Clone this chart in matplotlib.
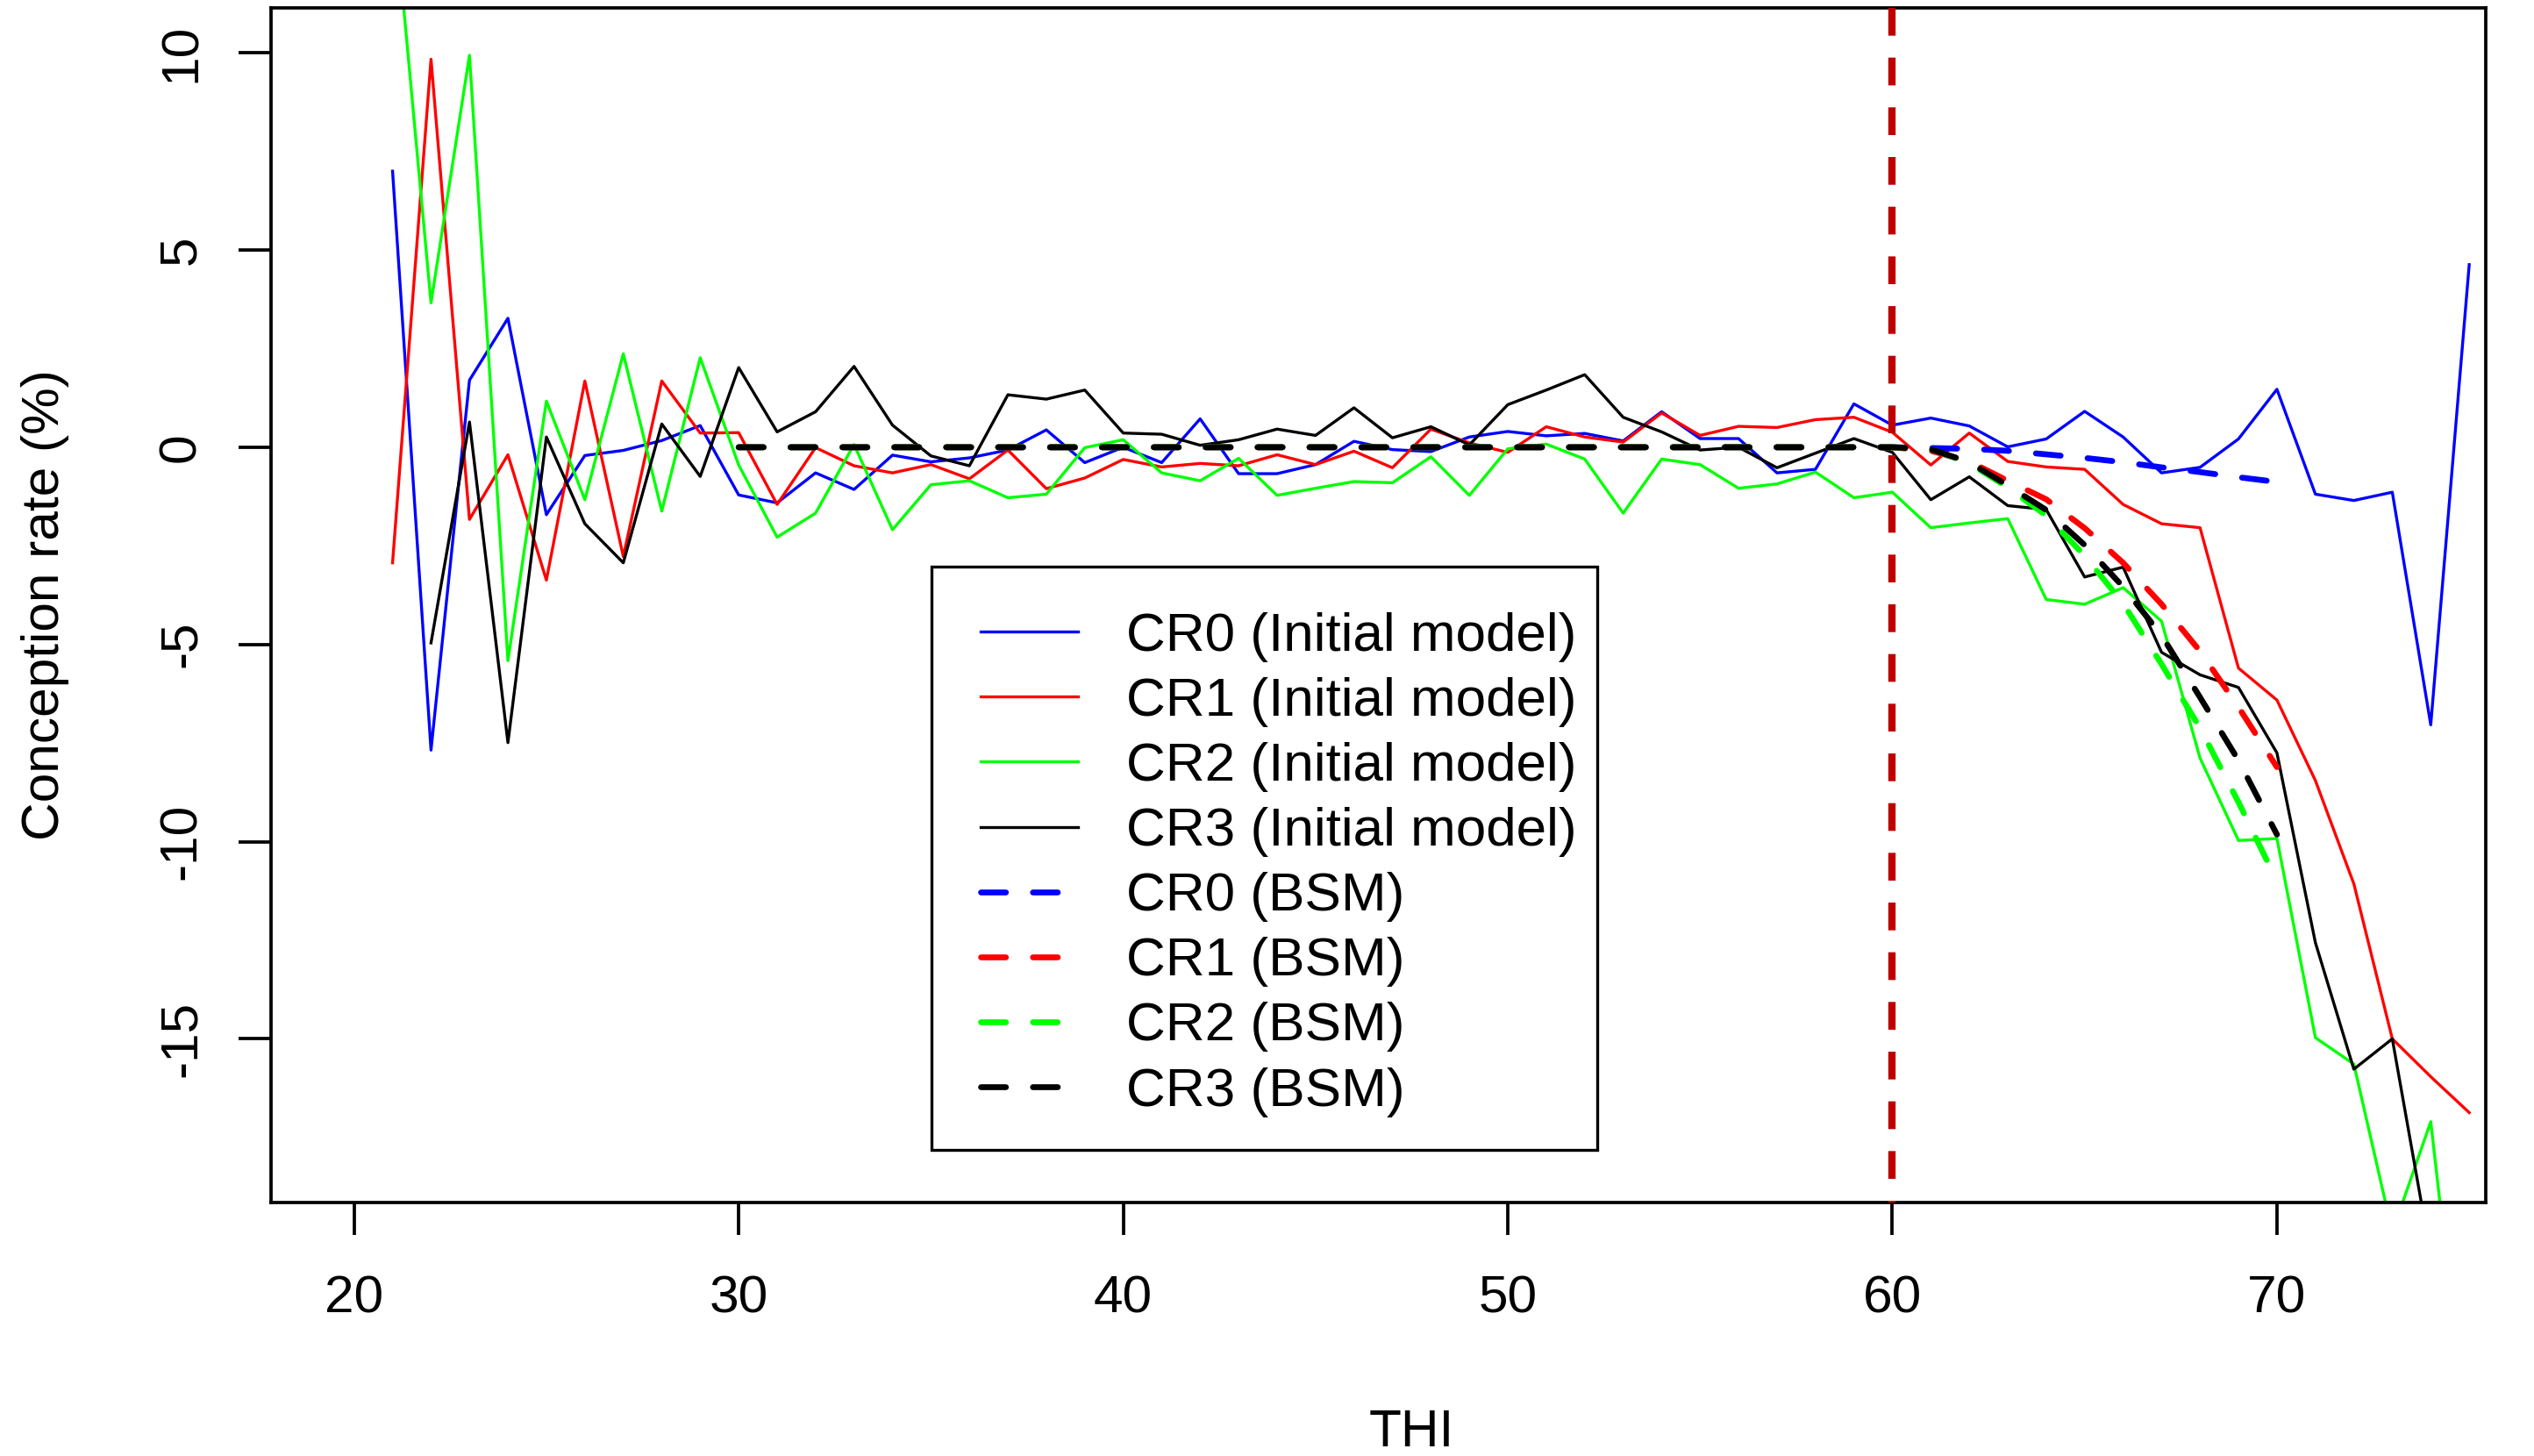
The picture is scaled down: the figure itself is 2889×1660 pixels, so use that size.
import matplotlib

matplotlib.use("Agg")
import matplotlib.pyplot as plt
from matplotlib.patches import Rectangle
import numpy as np


OUTPUT_PATH = "out.png"

# THI values of the initial model curves
THI = list(range(21, 76))

CR0_INITIAL = [
    7.0, -7.68, 1.70, 3.27, -1.71, -0.21, -0.08, 0.17, 0.55, -1.21,
    -1.41, -0.65, -1.07, -0.20, -0.37, -0.27, -0.07, 0.44, -0.39, 0.0,
    -0.39, 0.72, -0.67, -0.67, -0.44, 0.15, -0.06, -0.11, 0.26, 0.40,
    0.29, 0.35, 0.16, 0.90, 0.22, 0.22, -0.65, -0.56, 1.10, 0.56,
    0.74, 0.54, 0.01, 0.21, 0.91, 0.26, -0.65, -0.51, 0.21, 1.47,
    -1.19, -1.35, -1.14, -7.04, 4.63,
]
CR1_INITIAL = [
    -2.93, 9.84, -1.83, -0.19, -3.37, 1.68, -2.77, 1.68, 0.36, 0.37,
    -1.45, -0.01, -0.47, -0.65, -0.44, -0.80, -0.07, -1.05, -0.78, -0.31,
    -0.50, -0.41, -0.47, -0.19, -0.44, -0.10, -0.52, 0.46, 0.11, -0.13,
    0.52, 0.26, 0.13, 0.87, 0.30, 0.53, 0.50, 0.70, 0.76, 0.38,
    -0.45, 0.36, -0.36, -0.50, -0.56, -1.45, -1.94, -2.04, -5.60, -6.41,
    -8.45, -11.07, -15.0, -15.96, -16.87,
]
CR2_INITIAL = [
    14.2, 3.66, 9.94, -5.41, 1.17, -1.33, 2.37, -1.62, 2.27, -0.45,
    -2.28, -1.67, 0.07, -2.09, -0.95, -0.85, -1.28, -1.19, -0.01, 0.19,
    -0.65, -0.85, -0.28, -1.22, -1.04, -0.87, -0.90, -0.24, -1.22, -0.04,
    0.08, -0.30, -1.67, -0.30, -0.44, -1.04, -0.93, -0.63, -1.28, -1.14,
    -2.04, -1.92, -1.81, -3.86, -3.98, -3.56, -4.41, -7.88, -9.97, -9.92,
    -14.97, -15.64, -19.9, -17.1, -25.7,
]
CR3_INITIAL = [
    np.nan, -4.96, 0.64, -7.49, 0.26, -1.94, -2.93, 0.59, -0.74, 2.02,
    0.39, 0.90, 2.05, 0.56, -0.22, -0.47, 1.33, 1.22, 1.45, 0.36,
    0.33, 0.05, 0.19, 0.46, 0.30, 1.00, 0.24, 0.52, 0.06, 1.08,
    1.45, 1.84, 0.76, 0.39, -0.07, 0.00, -0.52, -0.15, 0.22, -0.13,
    -1.33, -0.75, -1.48, -1.58, -3.29, -3.04, -5.20, -5.77, -6.09, -7.75,
    -12.56, -15.77, -15.0, -20.5, np.nan,
]

# THI values of the BSM curves (flat at zero up to the breakpoint)
THI_BSM = list(range(30, 71))
ZEROS_TO_60 = [0.0] * 31

CR0_BSM = ZEROS_TO_60 + [-0.02, -0.04, -0.09, -0.18, -0.27, -0.38, -0.51, -0.63, -0.76, -0.88]
CR1_BSM = ZEROS_TO_60 + [-0.09, -0.36, -0.85, -1.32, -2.05, -2.93, -3.98, -5.17, -6.59, -8.11]
CR2_BSM = ZEROS_TO_60 + [-0.05, -0.40, -1.02, -1.73, -2.75, -3.96, -5.50, -7.12, -9.0, -11.0]
CR3_BSM = ZEROS_TO_60 + [-0.05, -0.38, -0.97, -1.59, -2.48, -3.54, -4.77, -6.34, -7.94, -9.82]

BREAKPOINT = 60

SERIES_NAMES = ["CR0", "CR1", "CR2", "CR3"]
SERIES_COLORS = ["#0000FF", "#FF0000", "#00FF00", "#000000"]

X_TICKS = [20, 30, 40, 50, 60, 70]
Y_TICKS = [-15, -10, -5, 0, 5, 10]

FONT_SIZE = 14.5
LEGEND_FONT_SIZE = 14.9


def plot_conception_rate():
    plt.rcParams["font.family"] = ["Liberation Sans", "DejaVu Sans"]
    plt.rcParams["axes.unicode_minus"] = False
    plt.rcParams["lines.scale_dashes"] = False

    fig = plt.figure(figsize=(2889 / 300, 1660 / 300), dpi=300)
    ax = fig.add_axes([0.10696, 0.17410, 0.87400, 0.82048])

    initial = [CR0_INITIAL, CR1_INITIAL, CR2_INITIAL, CR3_INITIAL]
    bsm = [CR0_BSM, CR1_BSM, CR2_BSM, CR3_BSM]

    for name, color, values in zip(SERIES_NAMES, SERIES_COLORS, initial):
        ax.plot(THI, values, color=color, linewidth=0.8,
                label=f"{name} (Initial model)")

    for name, color, values in zip(SERIES_NAMES, SERIES_COLORS, bsm):
        ax.plot(THI_BSM, values, color=color, linewidth=1.6,
                linestyle=(0, (6.8, 7.4)), dash_capstyle="round",
                label=f"{name} (BSM)")

    ax.axvline(BREAKPOINT, ymin=1, ymax=0, color="#BF0000", linewidth=2.0,
               linestyle=(0, (7.6, 6.0)), dash_capstyle="butt", zorder=5)

    ax.set_xlim(17.84, 75.43)
    ax.set_ylim(-19.15, 11.14)

    ax.set_xticks(X_TICKS)
    ax.set_yticks(Y_TICKS)
    ax.tick_params(axis="both", direction="out", length=8.9, width=0.9,
                   labelsize=FONT_SIZE, colors="black")
    ax.tick_params(axis="x", pad=11)
    ax.tick_params(axis="y", pad=9)
    for label in ax.get_yticklabels():
        label.set_rotation(90)
        label.set_va("center")

    for spine in ax.spines.values():
        spine.set_linewidth(0.9)

    ax.set_xlabel("THI", fontsize=FONT_SIZE)
    ax.set_ylabel("Conception rate (%)", fontsize=FONT_SIZE)
    ax.xaxis.label.set_va("center")
    ax.yaxis.label.set_va("center")
    ax.xaxis.set_label_coords(0.5149, -0.1930)
    ax.yaxis.set_label_coords(-0.1018, 0.5)

    # legend box drawn separately: R leaves more room left of the keys
    frame = Rectangle((0.2982, 0.0441), 0.3006, 0.4882, transform=ax.transAxes,
                      facecolor="white", edgecolor="black", linewidth=0.8,
                      zorder=6)
    ax.add_patch(frame)

    legend = ax.legend(
        loc="upper left",
        bbox_to_anchor=(0.3204, 0.4941),
        borderaxespad=0,
        borderpad=0,
        fontsize=LEGEND_FONT_SIZE,
        frameon=False,
        handlelength=1.78,
        handletextpad=0.89,
        labelspacing=0.275,
    )
    legend.set_zorder(7)

    fig.savefig(OUTPUT_PATH, dpi=300)
    plt.close(fig)


def main():
    plot_conception_rate()


if __name__ == "__main__":
    main()
